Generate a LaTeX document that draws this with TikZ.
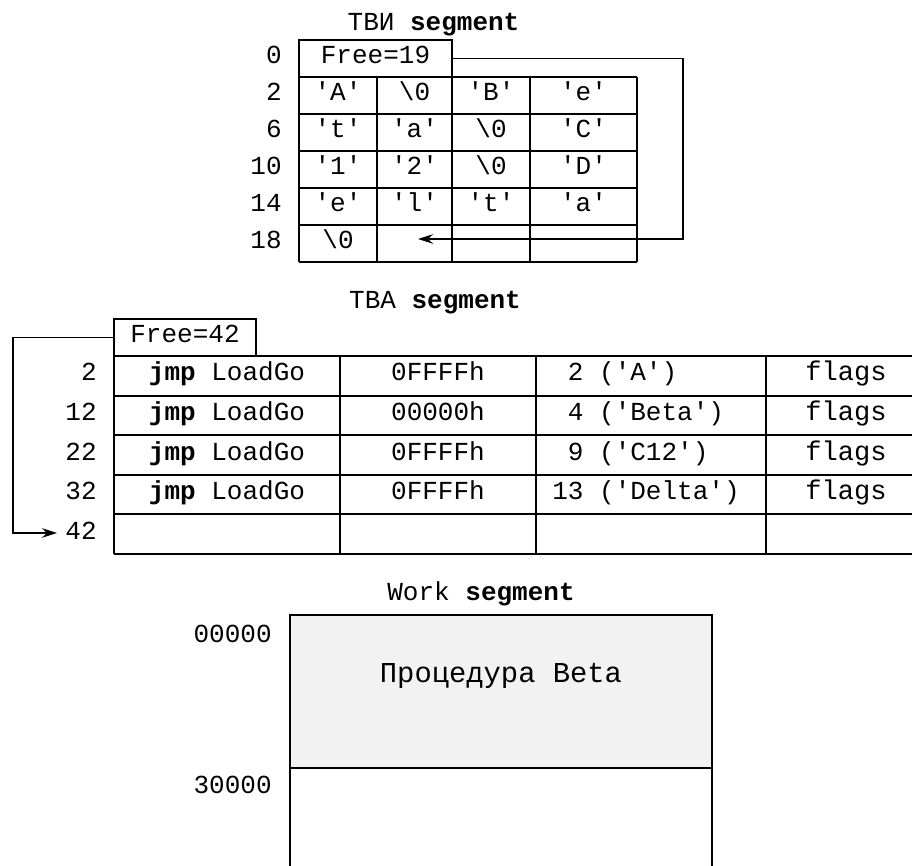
\documentclass[tikz,border=0pt]{standalone}
\usepackage{fontspec}
\setmonofont{Liberation Mono}
\usetikzlibrary{arrows.meta}

\definecolor{procgray}{HTML}{F2F2F2}
\newcommand{\zerochar}{\textbackslash 0}

\begin{document}
\begin{tikzpicture}[>={Stealth[length=3mm,width=1.9mm]},
    font=\ttfamily\fontsize{14.8}{17}\selectfont,
    grid/.style={line width=1.2pt},
    link/.style={->,line width=0.6pt},
    txt/.style={inner sep=0pt,text height=0.8em,text depth=0.22em},
    lbl/.style={txt,anchor=east},
    freebox/.style={txt,draw,line width=1.2pt,minimum height=0.74cm}]

    \useasboundingbox (0,0) rectangle (18.24,17.32);
    \clip (0,0) rectangle (18.24,17.32);

    % TBИ segment
    \node[txt] (tvi-title) at (8.67,16.82) {ТВИ \textbf{segment}};
    \node[freebox,minimum width=3.06cm] (free1) at (7.51,16.15) {Free=19};
    \node[lbl] (tvi-l0) at (5.64,16.15) {0};
    \foreach \y in {15.78,15.04,14.30,13.56,12.82,12.08}
        \draw[grid] (5.98,\y) -- (12.74,\y);
    \foreach \x in {5.98,7.54,9.04,10.6,12.74}
        \draw[grid] (\x,15.78) -- (\x,12.08);
    \foreach \lab [count=\i] in {2,6,10,14,18}
        \node[lbl] (tvi-l\i) at (5.64,15.78-0.74*\i+0.37) {\lab};
    \foreach \a/\b/\c/\d [count=\r] in {'A'/\zerochar/'B'/'e', 't'/'a'/\zerochar/'C',
            '1'/'2'/\zerochar/'D', 'e'/'l'/'t'/'a'} {
        \node[txt] (tvi-\r-1) at (6.76,15.78-0.74*\r+0.37) {\a};
        \node[txt] (tvi-\r-2) at (8.29,15.78-0.74*\r+0.37) {\b};
        \node[txt] (tvi-\r-3) at (9.82,15.78-0.74*\r+0.37) {\c};
        \node[txt] (tvi-\r-4) at (11.67,15.78-0.74*\r+0.37) {\d};
    }
    \node[txt] (tvi-5-1) at (6.76,12.45) {\zerochar};

    % Free -> first free byte
    \coordinate (bend1) at (13.66,12.54);
    \coordinate (tip1) at (8.36,12.54);
    \draw[link] (free1.east) -| (bend1) -- (tip1);

    % TBA segment
    \node[txt] (tba-title) at (8.7,11.26) {TBA \textbf{segment}};
    \node[freebox,minimum width=2.84cm] (free2) at (3.70,10.57) {Free=42};
    \foreach \y in {10.2,9.408,8.616,7.824,7.032,6.24}
        \draw[grid] (2.28,\y) -- (18.52,\y);
    \foreach \x in {2.28,6.8,10.72,15.32,18.52}
        \draw[grid] (\x,10.2) -- (\x,6.24);
    \foreach \lab [count=\i] in {2,12,22,32,42}
        \node[lbl] (tba-l\i) at (1.94,10.2-0.792*\i+0.396) {\lab};
    \foreach \addr/\name [count=\r] in {0FFFFh/\phantom{1}2 ('A'), 00000h/\phantom{1}4 ('Beta'),
            0FFFFh/\phantom{1}9 ('C12'), 0FFFFh/13 ('Delta')} {
        \node[txt] (tba-\r-1) at (4.54,10.2-0.792*\r+0.396) {\textbf{jmp} LoadGo};
        \node[txt] (tba-\r-2) at (8.76,10.2-0.792*\r+0.396) {\addr};
        \node[txt,anchor=west] (tba-\r-3) at (11.04,10.2-0.792*\r+0.396) {\name};
        \node[txt,font=\ttfamily\fontsize{15.4}{17}\selectfont] (tba-\r-4)
            at (16.92,10.2-0.792*\r+0.396) {flags};
    }

    % Free -> next entry
    \coordinate (bend2) at (0.26,6.66);
    \coordinate (tip2) at (1.14,6.66);
    \draw[link] (free2.west) -| (bend2) -- (tip2);

    % Work segment
    \node[txt] (work-title) at (9.62,5.42) {Work \textbf{segment}};
    \fill[procgray] (5.8,5.02) rectangle (14.24,1.96);
    \draw[grid] (5.8,-0.2) -- (5.8,5.02) -- (14.24,5.02) -- (14.24,-0.2);
    \draw[grid] (5.8,1.96) -- (14.24,1.96);
    \node[lbl] (work-l0) at (5.44,4.58) {00000};
    \node[lbl] (work-l1) at (5.44,1.56) {30000};
    \node[txt,font=\ttfamily\fontsize{16.4}{19}\selectfont] (proc) at (10.02,3.78) {Процедура Beta};

\end{tikzpicture}
\end{document}
